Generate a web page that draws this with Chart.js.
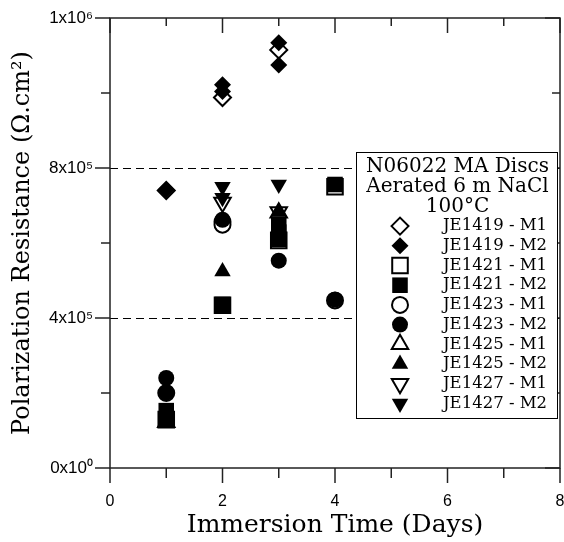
<!DOCTYPE html>
<html>
<head>
<meta charset="utf-8">
<script src="https://cdn.jsdelivr.net/npm/chart.js@4.4.0/dist/chart.umd.min.js"></script>
<style>
html,body{margin:0;padding:0;background:#fff;}
#wrap{width:564px;height:542px;position:relative;}
</style>
</head>
<body>
<div id="wrap"><canvas id="c" width="564" height="542"></canvas></div>
<script>
// ---------- data ----------
const seriesLabels = ['JE1419 - M1','JE1419 - M2','JE1421 - M1','JE1421 - M2','JE1423 - M1','JE1423 - M2','JE1425 - M1','JE1425 - M2','JE1427 - M1','JE1427 - M2'];
const legendTitle = ['N06022 MA Discs','Aerated 6 m NaCl','100°C'];

const je1419m1Days = [1, 2, 3];
const je1419m1Rp   = [740000, 988000, 1115000];
const je1419m2Days = [1, 2, 2, 3, 3];
const je1419m2Rp   = [742000, 1022000, 1004000, 1134000, 1075000];

const je1421m1Days = [1, 2, 3, 4];
const je1421m1Rp   = [129000, 434000, 607000, 750000];
const je1421m2Days = [1, 1, 2, 3, 3, 3, 4];
const je1421m2Rp   = [153000, 129000, 436000, 649000, 629000, 610000, 756000];

const je1423m1Days = [1, 2, 2, 4];
const je1423m1Rp   = [200000, 656000, 649000, 447000];
const je1423m2Days = [1, 1, 2, 3, 4];
const je1423m2Rp   = [240000, 201000, 662000, 553000, 449000];

const je1425m1Days = [1, 3];
const je1425m1Rp   = [122000, 681000];
const je1425m2Days = [1, 2, 3];
const je1425m2Rp   = [120000, 524000, 683000];

const je1427m1Days = [2, 3];
const je1427m1Rp   = [708000, 683000];
const je1427m2Days = [2, 2, 3];
const je1427m2Rp   = [750000, 721000, 756000];

const xTickValues = [0, 2, 4, 6, 8];
const xTickLabels = ['0', '2', '4', '6', '8'];
const yTickValues = [0, 400000, 800000, 1200000];
const yTickLabels = ['0x10\u2070', '4x10\u2075', '8x10\u2075', '1x10\u2076'];

// ---------- styling ----------
const seriesDays = [je1419m1Days, je1419m2Days, je1421m1Days, je1421m2Days, je1423m1Days, je1423m2Days, je1425m1Days, je1425m2Days, je1427m1Days, je1427m2Days];
const seriesRp   = [je1419m1Rp, je1419m2Rp, je1421m1Rp, je1421m2Rp, je1423m1Rp, je1423m2Rp, je1425m1Rp, je1425m2Rp, je1427m1Rp, je1427m2Rp];
const markerDefs = [
  {style:'rectRot', r:8.5, rot:0},
  {style:'rectRot', r:8.5, rot:0},
  {style:'rect', r:11, rot:0},
  {style:'rect', r:11, rot:0},
  {style:'circle', r:8, rot:0},
  {style:'circle', r:8, rot:0},
  {style:'triangle', r:9.5, rot:0},
  {style:'triangle', r:9.5, rot:0},
  {style:'triangle', r:9.5, rot:180},
  {style:'triangle', r:9.5, rot:180}
];

const datasets = seriesLabels.map((lab, i) => {
  const filled = (i % 2) === 1;
  const m = markerDefs[i];
  return {
    label: lab,
    data: seriesDays[i].map((d, k) => ({x: d, y: seriesRp[i][k]})),
    pointStyle: m.style,
    pointRadius: m.r,
    pointRotation: m.rot,
    backgroundColor: filled ? '#000' : '#fff',
    borderColor: '#000',
    borderWidth: filled ? 0 : 2,
    showLine: false,
    order: filled ? 0 : 1
  };
});

const AX_LEFT = 110, AX_TOP = 18, AX_RIGHT_PAD = 4, X_AXIS_H = 74;

function line(ctx, x1, y1, x2, y2) { ctx.beginPath(); ctx.moveTo(x1, y1); ctx.lineTo(x2, y2); ctx.stroke(); }
function zeroPad(s) { s.paddingLeft = 0; s.paddingRight = 0; s.paddingTop = 0; s.paddingBottom = 0; }

const framePlugin = {
  id: 'frame',
  beforeDatasetsDraw(chart) {
    const {ctx, chartArea: a, scales: {x, y}} = chart;
    ctx.save();
    ctx.strokeStyle = '#000';
    ctx.lineWidth = 1;
    ctx.setLineDash([8, 5]);
    y.ticks.forEach(t => {
      if (t.value > y.min && t.value < y.max) {
        const py = Math.round(y.getPixelForValue(t.value)) + 0.5;
        line(ctx, a.left, py, a.right, py);
      }
    });
    ctx.setLineDash([]);
    ctx.strokeStyle = '#222';
    ctx.lineWidth = 1.5;
    ctx.strokeRect(a.left, a.top, a.right - a.left, a.bottom - a.top);
    const yv = y.ticks.map(t => t.value);
    yv.forEach((v, i) => {
      const py = y.getPixelForValue(v);
      line(ctx, a.left - 15, py, a.left, py);
      line(ctx, a.right - 15, py, a.right, py);
      if (i < yv.length - 1) {
        const pm = y.getPixelForValue((v + yv[i + 1]) / 2);
        line(ctx, a.left - 9, pm, a.left, pm);
        line(ctx, a.right - 8, pm, a.right, pm);
      }
    });
    const xv = x.ticks.map(t => t.value);
    xv.forEach((v, i) => {
      const px = x.getPixelForValue(v);
      line(ctx, px, a.bottom, px, a.bottom + 15);
      line(ctx, px, a.top, px, a.top + 15);
      if (i < xv.length - 1) {
        const pm = x.getPixelForValue((v + xv[i + 1]) / 2);
        line(ctx, pm, a.bottom, pm, a.bottom + 10);
        line(ctx, pm, a.top, pm, a.top + 8);
      }
    });
    ctx.restore();
  }
};

function drawMarker(ctx, m, filled, px, py) {
  ctx.save();
  ctx.fillStyle = filled ? '#000' : '#fff';
  ctx.strokeStyle = '#000';
  ctx.lineWidth = filled ? 0 : 2;
  if (Chart.helpers && Chart.helpers.drawPoint) {
    Chart.helpers.drawPoint(ctx, {pointStyle: m.style, radius: m.r, rotation: m.rot, borderWidth: filled ? 0 : 2}, px, py);
  }
  ctx.restore();
}

const legendPlugin = {
  id: 'boxLegend',
  afterDraw(chart) {
    const ctx = chart.ctx;
    const bx = 356, by = 152, bw = 201, bh = 266;
    ctx.save();
    ctx.fillStyle = '#fff';
    ctx.fillRect(bx, by, bw, bh);
    ctx.strokeStyle = '#000';
    ctx.lineWidth = 1;
    ctx.strokeRect(bx + 0.5, by + 0.5, bw, bh);
    ctx.fillStyle = '#000';
    ctx.textBaseline = 'middle';
    ctx.textAlign = 'center';
    ctx.font = '20px "DejaVu Serif"';
    const step = 19.7, y0 = 167;
    legendTitle.forEach((t, i) => ctx.fillText(t, bx + bw / 2 + 1, y0 + i * step));
    ctx.textAlign = 'left';
    ctx.font = '16.5px "DejaVu Serif"';
    seriesLabels.forEach((lab, i) => {
      const yy = y0 + (i + 3) * step;
      drawMarker(ctx, markerDefs[i], i % 2 === 1, 400, yy);
      ctx.fillStyle = '#000';
      ctx.fillText(lab, 443, yy);
    });
    ctx.restore();
  }
};

new Chart(document.getElementById('c'), {
  type: 'scatter',
  data: {datasets},
  options: {
    responsive: false,
    devicePixelRatio: 1,
    animation: false,
    events: [],
    layout: {autoPadding: false, padding: {left: 0, top: AX_TOP, right: AX_RIGHT_PAD, bottom: 0}},
    plugins: {legend: {display: false}, tooltip: {enabled: false}},
    scales: {
      x: {
        type: 'linear', min: 0, max: 8,
        afterFit(s) { s.height = X_AXIS_H; zeroPad(s); },
        afterBuildTicks(s) { s.ticks = xTickValues.map(v => ({value: v})); },
        grid: {display: false, drawTicks: false},
        border: {display: false},
        ticks: {
          padding: 24, color: '#000',
          font: {family: '"Liberation Sans", Arial, sans-serif', size: 16},
          callback: (v) => { const i = xTickValues.indexOf(v); return i >= 0 ? xTickLabels[i] : ''; }
        },
        title: {display: true, text: 'Immersion Time (Days)', color: '#000',
          font: {family: '"DejaVu Serif", serif', size: 25}, padding: {top: 0, bottom: 2}}
      },
      y: {
        type: 'linear', min: 0, max: 1200000,
        afterFit(s) { s.width = AX_LEFT; zeroPad(s); },
        afterBuildTicks(s) { s.ticks = yTickValues.map(v => ({value: v})); },
        grid: {display: false, drawTicks: false},
        border: {display: false},
        ticks: {
          padding: 17, color: '#000',
          font: {family: '"Liberation Sans", Arial, sans-serif', size: 17},
          callback: (v) => { const i = yTickValues.indexOf(v); return i >= 0 ? yTickLabels[i] : ''; }
        },
        title: {display: true, text: 'Polarization Resistance (\u03A9.cm\u00B2)', color: '#000',
          font: {family: '"DejaVu Serif", serif', size: 24}, padding: {top: 8, bottom: 0}}
      }
    }
  },
  plugins: [framePlugin, legendPlugin]
});
</script>
</body>
</html>
